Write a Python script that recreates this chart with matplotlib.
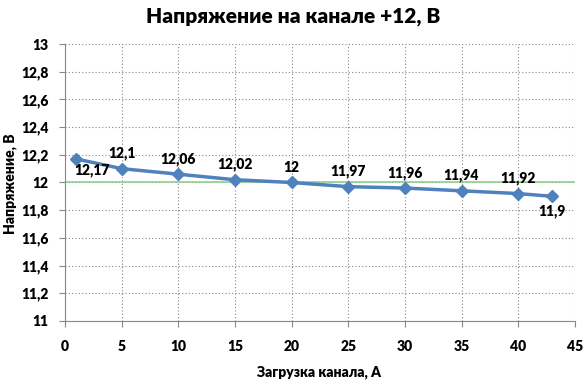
import matplotlib.pyplot as plt

load_a = [1, 5, 10, 15, 20, 25, 30, 35, 40, 43]
volts = [12.17, 12.1, 12.06, 12.02, 12.0, 11.97, 11.96, 11.94, 11.92, 11.9]
labels = ['12,17', '12,1', '12,06', '12,02', '12', '11,97', '11,96', '11,94', '11,92', '11,9']
nominal = 12.0

plt.rcParams['font.family'] = ['Lato', 'DejaVu Sans']

fig = plt.figure(figsize=(5.86, 3.83), dpi=100)
ax = fig.add_axes([0.111, 0.162, 0.870, 0.723])

ax.axhline(nominal, color='#8fd18f', lw=1.2, zorder=2)
ax.plot(load_a, volts, color='#4f81bd', lw=2.5, marker='D', ms=6, zorder=3)

# label placement: first and last below, rest above
for i, (x, y, t) in enumerate(zip(load_a, volts, labels)):
    if i == 0:
        off = (11, -8)
    elif i == len(load_a) - 1:
        off = (0, -11)
    else:
        off = (0, 11)
    ax.annotate(t, (x, y), xytext=off, textcoords='offset points',
                ha='center', va='center', fontsize=10, fontweight='heavy')

ax.set_xlim(0, 45)
ax.set_ylim(11, 13)
ax.set_xticks(range(0, 46, 5))
yt = [11 + 0.2 * i for i in range(11)]
ax.set_yticks(yt)
ax.set_yticklabels([('%g' % round(v, 1)).replace('.', ',') for v in yt])
ax.grid(True, linestyle=(0, (1, 2)), color='#888888', lw=0.8)
ax.set_axisbelow(True)
for s in ['top', 'right']:
    ax.spines[s].set_visible(False)
for s in ['left', 'bottom']:
    ax.spines[s].set_color('#888888')
ax.tick_params(length=4, color='#888888', labelsize=10)
for lb in ax.get_xticklabels() + ax.get_yticklabels():
    lb.set_fontweight('heavy')
ax.tick_params(axis='x', pad=10)
ax.tick_params(axis='y', pad=8)

fig.text(0.5, 0.956, 'Напряжение на канале +12, В', ha='center', va='center',
         fontsize=15, fontweight='heavy')
fig.text(0.545, 0.028, 'Загрузка канала, А', ha='center', va='center',
         fontsize=10, fontweight='heavy')
fig.text(0.018, 0.52, 'Напряжение, В', ha='center', va='center', rotation=90,
         fontsize=10, fontweight='heavy')

fig.savefig('out.png', dpi=100)
